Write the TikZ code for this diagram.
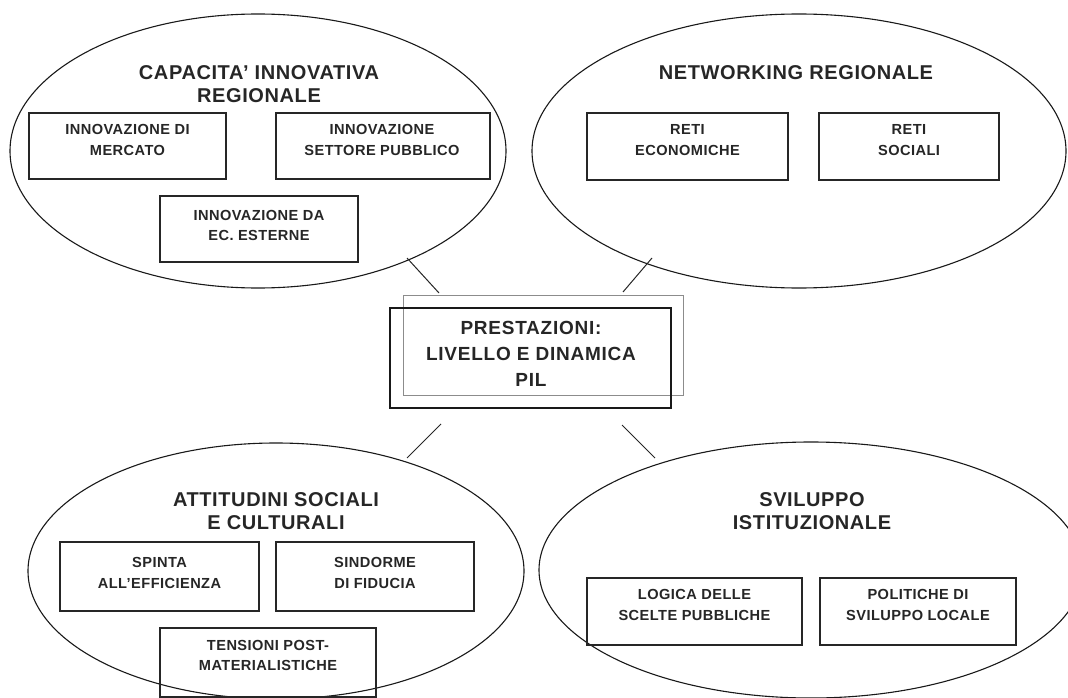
\documentclass[tikz,border=0pt]{standalone}
\usepackage{fontspec}
\setmainfont{Liberation Sans}
\usetikzlibrary{shapes.geometric}
\begin{document}
\begin{tikzpicture}[x=1pt,y=-1pt,
  oval/.style={draw=black!90, line width=1.1pt, ellipse, inner sep=0pt},
  ttl/.style={font=\fontsize{20}{23.5}\selectfont\bfseries\addfontfeatures{LetterSpace=3}, align=center, text=black!85, inner sep=0pt},
  sbox/.style={draw=black!85, line width=1.3pt, inner sep=0pt},
  stxt/.style={font=\fontsize{14.6}{20.5}\selectfont\bfseries\addfontfeatures{LetterSpace=3}, align=center, text=black!85, inner sep=0pt},
  conn/.style={draw=black!85, line width=1pt}]
\useasboundingbox (0,0) rectangle (1068,698);
\clip (0,0) rectangle (1068,698);
% ellipses
\node[oval, minimum width=496pt, minimum height=274pt] (eTL) at (258,151) {};
\node[oval, minimum width=534pt, minimum height=274pt] (eTR) at (799,151) {};
\node[oval, minimum width=496pt, minimum height=256pt] (eBL) at (276,571) {};
\node[oval, minimum width=544pt, minimum height=256pt] (eBR) at (811,570) {};
% titles
\node[ttl] (tTL) at (259,84) {CAPACITA' INNOVATIVA\\REGIONALE};
\node[ttl] (tTR) at (796,73) {NETWORKING REGIONALE};
\node[ttl] (tBL) at (276,511) {ATTITUDINI SOCIALI\\E CULTURALI};
\node[ttl] (tBR) at (812,511) {SVILUPPO\\ISTITUZIONALE};
% boxes top-left
\node[sbox, minimum width=197pt, minimum height=66pt] (a1) at (127.5,146) {};
\node[stxt] (a1t) at (127.5,140) {INNOVAZIONE DI\\MERCATO};
\node[sbox, minimum width=214pt, minimum height=66pt] (a2) at (383,146) {};
\node[stxt] (a2t) at (382,140) {INNOVAZIONE\\SETTORE PUBBLICO};
\node[sbox, minimum width=198pt, minimum height=66pt] (a3) at (259,229) {};
\node[stxt] (a3t) at (259,225.5) {INNOVAZIONE DA\\EC. ESTERNE};
% boxes top-right
\node[sbox, minimum width=201pt, minimum height=67pt] (b1) at (687.5,146.5) {};
\node[stxt] (b1t) at (687.5,140) {RETI\\ECONOMICHE};
\node[sbox, minimum width=180pt, minimum height=67pt] (b2) at (909,146.5) {};
\node[stxt] (b2t) at (909,140) {RETI\\SOCIALI};
% boxes bottom-left
\node[sbox, minimum width=199pt, minimum height=69pt] (c1) at (159.5,576.5) {};
\node[stxt] (c1t) at (159.5,573) {SPINTA\\ALL'EFFICIENZA};
\node[sbox, minimum width=198pt, minimum height=69pt] (c2) at (375,576.5) {};
\node[stxt] (c2t) at (375,573) {SINDORME\\DI FIDUCIA};
\node[sbox, minimum width=216pt, minimum height=69pt] (c3) at (268,662.5) {};
\node[stxt] (c3t) at (268,655.5) {TENSIONI POST-\\MATERIALISTICHE};
% boxes bottom-right
\node[sbox, minimum width=215pt, minimum height=67pt] (d1) at (694.5,611.5) {};
\node[stxt] (d1t) at (694.5,605) {LOGICA DELLE\\SCELTE PUBBLICHE};
\node[sbox, minimum width=196pt, minimum height=67pt] (d2) at (918,611.5) {};
\node[stxt] (d2t) at (918,605) {POLITICHE DI\\SVILUPPO LOCALE};
% central boxes
\node[draw=black!45, line width=1pt, inner sep=0pt, minimum width=280pt, minimum height=100pt] (cg) at (543,345) {};
\node[draw=black!90, line width=1.4pt, inner sep=0pt, minimum width=281pt, minimum height=100pt] (cb) at (530.5,358) {};
\node[font=\fontsize{19}{26}\selectfont\bfseries\addfontfeatures{LetterSpace=4}, align=center, text=black!85, inner sep=0pt] (ct) at (531,354) {PRESTAZIONI:\\LIVELLO E DINAMICA\\PIL};
% connectors
\coordinate (p1a) at (407,258); \coordinate (p1b) at (439,293);
\coordinate (p2a) at (652,258); \coordinate (p2b) at (623,292);
\coordinate (p3a) at (441,424); \coordinate (p3b) at (407,458);
\coordinate (p4a) at (622,425); \coordinate (p4b) at (655,458);
\draw[conn] (p1a) -- (p1b);
\draw[conn] (p2a) -- (p2b);
\draw[conn] (p3a) -- (p3b);
\draw[conn] (p4a) -- (p4b);
\end{tikzpicture}
\end{document}
